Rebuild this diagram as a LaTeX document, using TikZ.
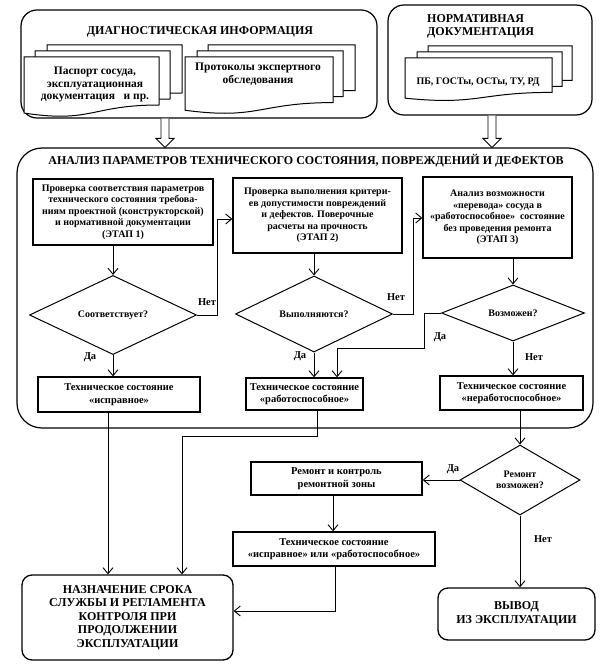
\documentclass[tikz,border=0pt]{standalone}
\usepackage{fontspec}
\setmainfont{Liberation Serif}
\usetikzlibrary{shapes.geometric,arrows.meta,calc}
\newcommand\docsheet[4]{%
  \draw[sheet] (#1,#2) -- (#3,#2) -- (#3,{#2+0.8*#4})
    .. controls ({(#1+#3)/2},{#2+0.8*#4}) and ({(#1+#3)/2},{#2+1.107*#4})
    .. (#1,{#2+0.934*#4}) -- cycle;}
\begin{document}
\begin{tikzpicture}[x=1pt,y=-1pt,
  box/.style={draw, line width=1.3pt, inner sep=0pt, align=center,
    font=\bfseries\fontsize{10}{11.5}\selectfont},
  sbox/.style={box, font=\bfseries\fontsize{10.5}{12.5}\selectfont},
  dia/.style={draw, diamond, line width=1pt, inner sep=0pt, align=center,
    font=\bfseries\fontsize{10}{11.5}\selectfont},
  rbox/.style={draw, line width=1.3pt, rounded corners=10pt, inner sep=0pt, align=center,
    font=\bfseries\fontsize{12}{13.6}\selectfont},
  frame/.style={draw, line width=1.2pt, inner sep=0pt},
  conn/.style={line width=0.9pt, -{Straight Barb[length=6pt,width=10pt]}},
  hollow/.style={line width=0.9pt, fill=white},
  sheet/.style={draw, line width=1pt, fill=white},
  lbl/.style={font=\bfseries\fontsize{10.5}{12}\selectfont, inner sep=0pt},
  ttl/.style={font=\bfseries\fontsize{12}{13.5}\selectfont, inner sep=0pt, align=left},
  doctext/.style={font=\bfseries\fontsize{11.5}{12.8}\selectfont, inner sep=0pt, align=center}
]
\useasboundingbox (0,0) rectangle (605,671);

% top frames
\node[frame, rounded corners=16pt, minimum width=356pt, minimum height=108pt] (diag) at (199,64) {};
\node[frame, rounded corners=16pt, minimum width=204pt, minimum height=110pt] (norm) at (490,60) {};
\node[ttl] (diagt) at (200,32) {ДИАГНОСТИЧЕСКАЯ ИНФОРМАЦИЯ};
\node[ttl, anchor=west] (normt) at (427,26.5) {НОРМАТИВНАЯ\\ДОКУМЕНТАЦИЯ};

% document stacks
\docsheet{47}{45}{182}{60}
\docsheet{35}{51}{170}{60}
\docsheet{24}{57}{159}{60}
\docsheet{208}{45}{355}{57}
\docsheet{197}{51}{343}{57}
\docsheet{185}{57}{333}{57}
\docsheet{428}{46}{572}{43}
\docsheet{417}{52}{562}{43}
\docsheet{405}{58}{552}{43}
\node[doctext] (doc1) at (95,84.5) {Паспорт сосуда,\\эксплуатационная\\документация\ \ \ и пр.};
\node[doctext] (doc2) at (258,74) {Протоколы экспертного\\обследования};
\node[doctext, font=\bfseries\fontsize{10}{12}\selectfont] (doc3) at (478,82) {ПБ, ГОСТы, ОСТы, ТУ, РД};

% big frame
\node[frame, rounded corners=25pt, minimum width=576pt, minimum height=280pt] (big) at (305,288) {};
\node[ttl] (bigt) at (306,161) {АНАЛИЗ ПАРАМЕТРОВ ТЕХНИЧЕСКОГО СОСТОЯНИЯ, ПОВРЕЖДЕНИЙ И ДЕФЕКТОВ};

% hollow arrows
\coordinate (ha1) at (165,0);
\coordinate (ha2) at (492,0);
\path (diag.south -| ha1) coordinate (h1s) (big.north -| ha1) coordinate (h1e);
\path (norm.south -| ha2) coordinate (h2s) (big.north -| ha2) coordinate (h2e);
\draw[hollow] ($(h1s)+(-4,0)$) -- ($(h1e)+(-4,-9)$) -- ($(h1e)+(-9,-9)$) -- (h1e)
  -- ($(h1e)+(9,-9)$) -- ($(h1e)+(4,-9)$) -- ($(h1s)+(4,0)$);
\draw[hollow] ($(h2s)+(-4,0)$) -- ($(h2e)+(-4,-9)$) -- ($(h2e)+(-9,-9)$) -- (h2e)
  -- ($(h2e)+(9,-9)$) -- ($(h2e)+(4,-9)$) -- ($(h2s)+(4,0)$);

% steps
\node[box, minimum width=180pt, minimum height=66pt] (step1) at (123,212)
  {Проверка соответствия параметров\\технического состояния требова-\\ниям проектной (конструкторской)\\и нормативной документации\\(ЭТАП 1)};
\node[box, minimum width=169pt, minimum height=75pt] (step2) at (317.5,215.5)
  {Проверка выполнения критери-\\ев допустимости повреждений\\и дефектов. Поверочные\\расчеты на прочность\\(ЭТАП 2)};
\node[box, minimum width=149pt, minimum height=81pt] (step3) at (497.5,217.5)
  {Анализ возможности\\«перевода» сосуда в\\«работоспособное»\ \ состояние\\без проведения ремонта\\(ЭТАП 3)};

% diamonds
\node[dia, minimum width=167pt, minimum height=54pt] (d1) at (113,315) {Соответствует?};
\node[dia, minimum width=157pt, minimum height=45pt] (d2) at (314,314) {Выполняются?};
\node[dia, minimum width=143pt, minimum height=53pt] (d3) at (513,313) {Возможен?};

% states
\node[sbox, minimum width=162pt, minimum height=35pt] (s1) at (119,394.5)
  {Техническое состояние\\«исправное»};
\node[sbox, minimum width=117pt, minimum height=32pt] (s2) at (304.5,394)
  {Техническое состояние\\«работоспособное»};
\node[sbox, minimum width=143pt, minimum height=34pt] (s3) at (511.5,393)
  {Техническое состояние\\«неработоспособное»};

% lower part
\node[dia, minimum width=120pt, minimum height=70pt] (d4) at (520,480) {Ремонт\\возможен?};
\node[sbox, minimum width=171pt, minimum height=33pt] (rep) at (336.5,478.5)
  {Ремонт и контроль\\ремонтной зоны};
\node[sbox, minimum width=202pt, minimum height=34pt] (s4) at (334,549)
  {Техническое состояние\\«исправное» или «работоспособное»};
\node[rbox, minimum width=211pt, minimum height=85pt] (final) at (127.5,617.5)
  {НАЗНАЧЕНИЕ СРОКА\\СЛУЖБЫ И РЕГЛАМЕНТА\\КОНТРОЛЯ ПРИ\\ПРОДОЛЖЕНИИ\\ЭКСПЛУАТАЦИИ};
\node[rbox, minimum width=157pt, minimum height=52pt] (out) at (516.5,614)
  {ВЫВОД\\ИЗ ЭКСПЛУАТАЦИИ};

% connectors
\draw[conn] (d1.north |- step1.south) -- (d1.north);
\coordinate (n1) at (217,219);
\draw[conn] (d1.east) -- (d1.east -| n1) -- (n1) -- (n1 -| step2.west);
\draw[conn] (d1.south) -- (d1.south |- s1.north);
\coordinate (f1) at (108,0);
\draw[conn] (s1.south -| f1) -- (final.north -| f1);

\draw[conn] (d2.north |- step2.south) -- (d2.north);
\coordinate (n2) at (413,218);
\draw[conn] (d2.east) -- (d2.east -| n2) -- (n2) -- (n2 -| step3.west);
\draw[conn] (d2.south) -- (d2.south |- s2.north);
\coordinate (y3a) at (424,348);
\coordinate (y3b) at (337,348);
\draw[conn] (d3.west) -- (d3.west -| y3a) -- (y3a) -- (y3b) -- (y3b |- s2.north);
\draw[conn] (d3.north |- step3.south) -- (d3.north);
\draw[conn] (d3.south) -- (d3.south |- s3.north);

\coordinate (w2a) at (317,436);
\coordinate (w2b) at (182,436);
\draw[conn] (s2.south -| w2a) -- (w2a) -- (w2b) -- (w2b |- final.north);
\draw[conn] (s3.south -| d4.north) -- (d4.north);
\draw[conn] (d4.west) -- (d4.west -| rep.east);
\coordinate (r1) at (333,0);
\draw[conn] (rep.south -| r1) -- (s4.north -| r1);
\coordinate (r2) at (335,611);
\draw[conn] (s4.south -| r2) -- (r2) -- (r2 -| final.east);
\draw[conn] (d4.south) -- (d4.south |- out.north);

% labels
\node[lbl] (l1) at (207,302) {Нет};
\node[lbl] (l2) at (90,357) {Да};
\node[lbl] (l3) at (396,297) {Нет};
\node[lbl] (l4) at (300,356) {Да};
\node[lbl] (l5) at (440,337) {Да};
\node[lbl] (l6) at (534,357) {Нет};
\node[lbl] (l7) at (453,469) {Да};
\node[lbl] (l8) at (543,539) {Нет};
\end{tikzpicture}
\end{document}
